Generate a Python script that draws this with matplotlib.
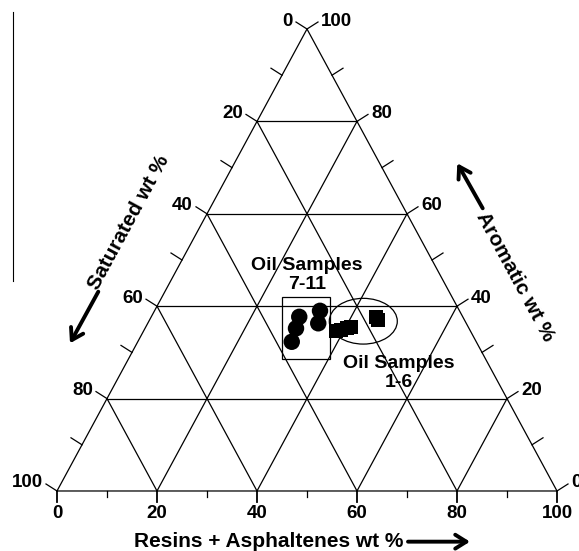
import matplotlib
matplotlib.use("Agg")
import matplotlib.pyplot as plt
from matplotlib.patches import Rectangle, Ellipse
from matplotlib.lines import Line2D

plt.rcParams['font.family'] = ['Liberation Sans', 'DejaVu Sans']
plt.rcParams['font.weight'] = 'bold'

# Oil samples 7-11 (circles), wt %
sat_7_11 = [27.9, 29.6, 32.7, 34.6, 36.9]
aro_7_11 = [39.0, 36.3, 37.7, 35.2, 32.3]
res_7_11 = [33.1, 34.1, 29.6, 30.2, 30.8]

# Oil samples 1-6 (squares), wt %
sat_1_6 = [26.9, 25.8, 24.4, 23.5, 17.3, 17.3]
aro_1_6 = [34.6, 34.8, 35.3, 35.5, 37.7, 37.0]
res_1_6 = [38.5, 39.4, 40.3, 41.0, 45.0, 45.7]

major = [0, 20, 40, 60, 80, 100]
minor = [10, 30, 50, 70, 90]


def tern(sat, aro, res):
    # x runs with resins, y with aromatics (figure is not equilateral)
    return [r + a / 2 for a, r in zip(aro, res)], list(aro)


def pt(s, a, r):
    return r + a / 2, a


fig = plt.figure(figsize=(5.79, 5.51), dpi=100)
ax = fig.add_axes([0, 0, 1, 1])
ax.set_xlim(-11.4, 104.4)
ax.set_ylim(-12.99, 106.28)
ax.axis('off')

lw = 0.9
# outline
corners = [pt(100, 0, 0), pt(0, 0, 100), pt(0, 100, 0), pt(100, 0, 0)]
ax.plot([c[0] for c in corners], [c[1] for c in corners], color='black', lw=lw)

# grid
for v in major[1:-1]:
    p1, p2 = pt(100 - v, v, 0), pt(0, v, 100 - v)
    ax.plot([p1[0], p2[0]], [p1[1], p2[1]], color='black', lw=lw)
    p1, p2 = pt(100 - v, 0, v), pt(0, 100 - v, v)
    ax.plot([p1[0], p2[0]], [p1[1], p2[1]], color='black', lw=lw)
    p1, p2 = pt(v, 0, 100 - v), pt(v, 100 - v, 0)
    ax.plot([p1[0], p2[0]], [p1[1], p2[1]], color='black', lw=lw)

# ticks (offsets in data units: 5 px per x unit, 4.62 px per y unit)
dxl, dyl = -11 / 5, 7 / 4.62
for v in major + minor:
    # left edge (saturated)
    x0, y0 = pt(100 - v, v, 0)
    ax.plot([x0, x0 + dxl], [y0, y0 + dyl], color='black', lw=lw)
    # right edge (aromatic)
    x0, y0 = pt(0, v, 100 - v)
    ax.plot([x0, x0 - dxl], [y0, y0 + dyl], color='black', lw=lw)
    # bottom (resins)
    x0, y0 = pt(100 - v, 0, v)
    ln = 11 / 4.62 if v in major else 6 / 4.62
    ax.plot([x0, x0], [y0, y0 - ln], color='black', lw=1.3 if v in major else lw)

fs = 13.5
for v in major:
    x0, y0 = pt(100 - v, v, 0)
    ax.text(x0 - 14 / 5, y0 + 8 / 4.62, str(100 - v), ha='right', va='center',
            fontsize=fs, fontweight='bold')
    x0, y0 = pt(0, v, 100 - v)
    ax.text(x0 + 14 / 5, y0 + 8 / 4.62, str(v), ha='left', va='center',
            fontsize=fs, fontweight='bold')
    x0, y0 = pt(100 - v, 0, v)
    ax.text(x0, y0 - 23 / 4.62, str(v), ha='center', va='center',
            fontsize=fs, fontweight='bold')

# axis titles and arrows
ax.text(42.4, -12.06, 'Resins + Asphaltenes wt %', ha='center', va='baseline',
        fontsize=15, fontweight='bold')
ax.text(14.43, 58.1, 'Saturated wt %', ha='center', va='center', rotation=61.6,
        rotation_mode='anchor', fontsize=15, fontweight='bold')
ax.text(91.6, 46.4, 'Aromatic wt %', ha='center', va='center', rotation=-61.6,
        rotation_mode='anchor', fontsize=15, fontweight='bold')

arr = dict(arrowstyle='->,head_length=0.8,head_width=0.5', lw=2.8, color='black',
           shrinkA=0, shrinkB=0)
ax.annotate('', xy=(82.6, -10.97), xytext=(70.2, -10.97), arrowprops=arr)
ax.annotate('', xy=(2.6, 31.97), xytext=(8.26, 43.14), arrowprops=arr)
ax.annotate('', xy=(80.06, 70.93), xytext=(85.14, 61.19), arrowprops=arr)

# samples
cx, cy = tern(sat_7_11, aro_7_11, res_7_11)
ax.scatter(cx, cy, s=140, marker='o', color='black', edgecolors='none', zorder=5)
sx, sy = tern(sat_1_6, aro_1_6, res_1_6)
ax.scatter(sx, sy, s=105, marker='s', color='black', edgecolors='none', zorder=5)

ax.add_patch(Rectangle((45.1, 28.5), 9.5, 13.4, fill=False, lw=lw, color='black'))
ax.add_patch(Ellipse((61.26, 36.75), 13.6, 9.9, fill=False, lw=lw, color='black'))

ax.text(50.0, 46.7, 'Oil Samples\n7-11', ha='center', va='center', fontsize=14,
        fontweight='bold', linespacing=1.15)
ax.text(68.3, 25.6, 'Oil Samples\n1-6', ha='center', va='center', fontsize=14,
        fontweight='bold', linespacing=1.15)

fig.add_artist(Line2D([13 / 579, 13 / 579], [1 - 12 / 551, 1 - 281 / 551],
                      color='black', lw=0.8))

fig.savefig('out.png', dpi=100)
